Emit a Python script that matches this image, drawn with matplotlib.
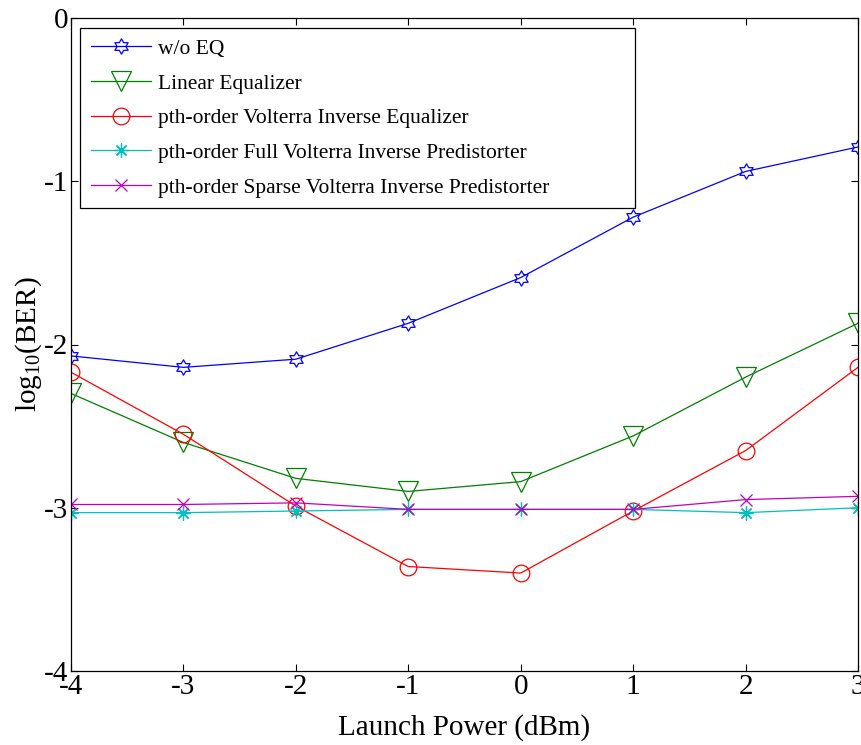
import numpy as np
import matplotlib.pyplot as plt
from matplotlib.path import Path

plt.rcParams['font.family'] = ['Liberation Serif', 'DejaVu Serif']
plt.rcParams['mathtext.fontset'] = 'custom'
plt.rcParams['mathtext.rm'] = 'Liberation Serif'
plt.rcParams['axes.unicode_minus'] = False

# Launch power (dBm) and log10(BER)
power = [-4, -3, -2, -1, 0, 1, 2, 3]
wo_eq = [-2.07, -2.14, -2.09, -1.87, -1.59, -1.22, -0.94, -0.79]
linear_eq = [-2.30, -2.60, -2.82, -2.90, -2.84, -2.56, -2.20, -1.87]
volterra_eq = [-2.17, -2.55, -2.99, -3.36, -3.40, -3.02, -2.65, -2.14]
full_pd = [-3.03, -3.03, -3.02, -3.01, -3.01, -3.01, -3.03, -3.00]
sparse_pd = [-2.98, -2.98, -2.97, -3.01, -3.01, -3.01, -2.95, -2.93]

labels = [
    "w/o EQ",
    "Linear Equalizer",
    "pth-order Volterra Inverse Equalizer",
    "pth-order Full Volterra Inverse Predistorter",
    "pth-order Sparse Volterra Inverse Predistorter",
]

# hexagram marker (MATLAB 'h')
ang = np.deg2rad(np.arange(12) * 30 + 90)
rad = np.where(np.arange(12) % 2 == 0, 1.0, 1 / np.sqrt(3))
verts = np.column_stack([rad * np.cos(ang), rad * np.sin(ang)])
verts = np.vstack([verts, verts[:1]])
hexagram = Path(verts, [Path.MOVETO] + [Path.LINETO] * 11 + [Path.CLOSEPOLY])

fig = plt.figure(figsize=(8.61, 7.45), dpi=100)
ax = fig.add_axes([71 / 861, 1 - 671 / 745, 787 / 861, 653 / 745])

ax.plot(power, wo_eq, color="#0000ff", lw=0.9, marker=hexagram, ms=11,
        mfc="none", mew=0.9, label=labels[0])
ax.plot(power, linear_eq, color="#007f00", lw=0.9, marker="v", ms=14,
        mfc="none", mew=0.9, label=labels[1])
ax.plot(power, volterra_eq, color="#ff0000", lw=0.9, marker="o", ms=12,
        mfc="none", mew=0.9, label=labels[2])
ax.plot(power, full_pd, color="#00bfbf", lw=0.9, marker=(8, 2, 0), ms=10,
        mew=0.9, label=labels[3])
ax.plot(power, sparse_pd, color="#bf00bf", lw=0.9, marker="x", ms=8,
        mew=0.9, label=labels[4])

ax.set_xlim(-4, 3)
ax.set_ylim(-4, 0)
ax.set_xticks(power)
ax.set_yticks([-4, -3, -2, -1, 0])
ax.tick_params(direction="in", top=True, right=True, labelsize=21,
               length=5, width=0.8, pad=2)
for s in ax.spines.values():
    s.set_linewidth(0.9)

ax.set_xlabel("Launch Power (dBm)", fontsize=21, labelpad=10)
ax.set_ylabel("log$_{10}$(BER)", fontsize=21, labelpad=0)

# legend box spans x 80..635 px, y 28..202 px in the reference
lx0, lx1, ly0, ly1 = 9 / 787, 564 / 787, 1 - 184 / 653, 1 - 10 / 653
leg = ax.legend(loc="upper left", bbox_to_anchor=(lx0, ly0, lx1 - lx0, ly1 - ly0),
                mode="expand", borderaxespad=0, fontsize=15.5, fancybox=False,
                framealpha=1, edgecolor="black", handlelength=2.8,
                handletextpad=0.3, labelspacing=0.68, borderpad=0.5)
leg.get_frame().set_linewidth(0.9)

fig.savefig("out.png", dpi=100)
